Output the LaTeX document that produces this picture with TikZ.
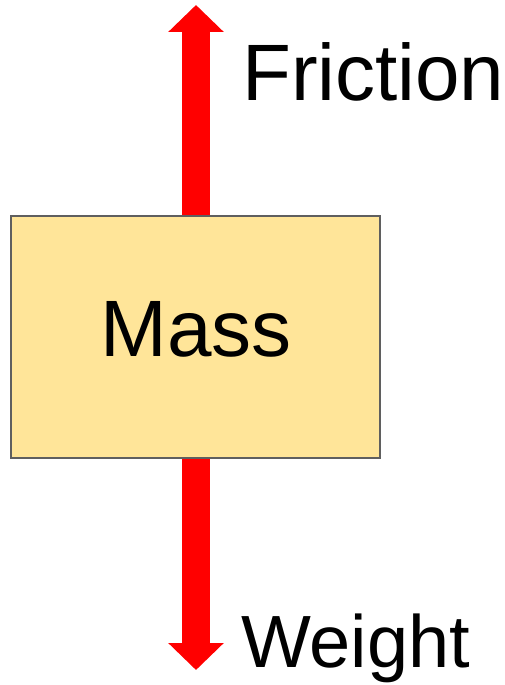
\documentclass[tikz,border=0pt]{standalone}
\usepackage{fontspec}
\setmainfont{Liberation Sans}
\usetikzlibrary{arrows.meta,positioning}
\definecolor{massfill}{HTML}{FFE599}
\definecolor{massedge}{HTML}{5F5F5F}

\begin{document}
\begin{tikzpicture}[
    x=1pt, y=-1pt,
    massbox/.style={draw=massedge, fill=massfill, line width=2.5pt, minimum width=369pt, minimum height=242pt, inner sep=0pt},
    force/.style={red, line width=28pt, -{Triangle[width=54pt, length=27pt]}},
    lbl/.style={inner sep=0pt, font=\fontsize{80}{96}\selectfont}
]
    \useasboundingbox (0,0) rectangle (504,685);
    \node[massbox] (mass) at (195.5,337) {};
    \node[lbl, anchor=base] (masstxt) at (196,356) {Mass};
    \coordinate (up) at (196,5);
    \coordinate (down) at (196,670);
    \draw[force] (mass.north -| up) -- (up);
    \draw[force] (mass.south -| down) -- (down);
    \node[lbl, anchor=base west] (friction) at (242,100) {Friction};
    \node[lbl, anchor=base west, font=\fontsize{74}{88}\selectfont] (weight) at (241,667) {Weight};
\end{tikzpicture}
\end{document}
